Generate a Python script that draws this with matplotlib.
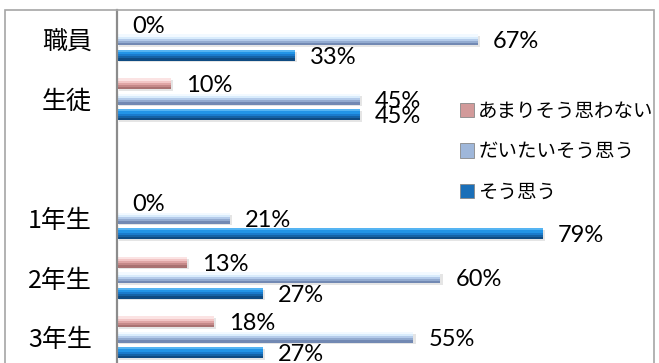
import matplotlib
matplotlib.use("Agg")
import matplotlib.pyplot as plt
from matplotlib.patches import Rectangle, Patch
import numpy as np

plt.rcParams['font.family'] = ['Noto Sans CJK JP', 'DejaVu Sans']

categories = ['職員', '生徒', '', '1年生', '2年生', '3年生']
series_names = ['あまりそう思わない', 'だいたいそう思う', 'そう思う']
not_really = [0, 10, None, 0, 13, 18]
mostly = [67, 45, None, 21, 60, 55]
yes = [33, 45, None, 79, 27, 27]
series_values = [not_really, mostly, yes]

gradients = [
    ['#fbe3e3', '#f2c6c6', '#dfa5a5', '#c58989', '#a97272'],
    ['#f2f9ff', '#d9ecfc', '#b4cbea', '#93abd0', '#7289b3'],
    ['#55b4f2', '#2294e6', '#1a7bcc', '#1563a6', '#0f4b82'],
]
legend_colors = ['#d29a9a', '#9fb7da', '#1a6fb8']

W, H = 659, 363
fig = plt.figure(figsize=(W / 100, H / 100), dpi=100)

# outer chart frame
fig.patches.append(Rectangle((5 / W, -0.1), 649 / W, 1.1 - 10 / H,
                             transform=fig.transFigure, fill=False,
                             edgecolor='#a6a6a6', linewidth=1.2))

ax = fig.add_axes([117 / W, -4 / H, 539 / W, 357 / H])
ax.set_xlim(0, 100)
ax.set_ylim(5.5, -0.5)

pitch = 0.26
bar_h = 0.18
nstripe = 5
for s, vals in enumerate(series_values):
    off = (s - 1) * pitch
    grad = gradients[s]
    for i, v in enumerate(vals):
        if v is None:
            continue
        y = i + off
        # shadow
        ax.barh(y + 0.03, v, height=bar_h, left=0.4, color='#000000',
                alpha=0.10, linewidth=0, zorder=1)
        for k in range(nstripe):
            sy = y - bar_h / 2 + (k + 0.5) * bar_h / nstripe
            ax.barh(sy, v, height=bar_h / nstripe * 1.02, color=grad[k],
                    linewidth=0, zorder=2)
        ax.annotate(f'{v}%', (v, y), xytext=(15, -2),
                    textcoords='offset pixels', ha='left', va='center',
                    fontsize=17, family=['Lato', 'DejaVu Sans'], color='#000000',
                    zorder=4)

ax.set_yticks(range(len(categories)))
ax.set_yticklabels(categories, fontsize=18)
ax.tick_params(axis='y', length=0, pad=18)
ax.set_xticks([])
for sp in ['top', 'right', 'bottom']:
    ax.spines[sp].set_visible(False)
ax.spines['left'].set_color('#8c8c8c')
ax.spines['left'].set_linewidth(1.6)
ax.patch.set_alpha(0)

handles = [Patch(facecolor=c, edgecolor='#888888', linewidth=0.6) for c in legend_colors]
leg = ax.legend(handles, series_names, loc='upper left',
                bbox_to_anchor=(452 / W, 1 - 93 / H), bbox_transform=fig.transFigure,
                frameon=False, fontsize=14, handlelength=0.75, handleheight=0.75,
                handletextpad=0.2, labelspacing=1.0, borderaxespad=0)

fig.savefig('out.png', dpi=100)
